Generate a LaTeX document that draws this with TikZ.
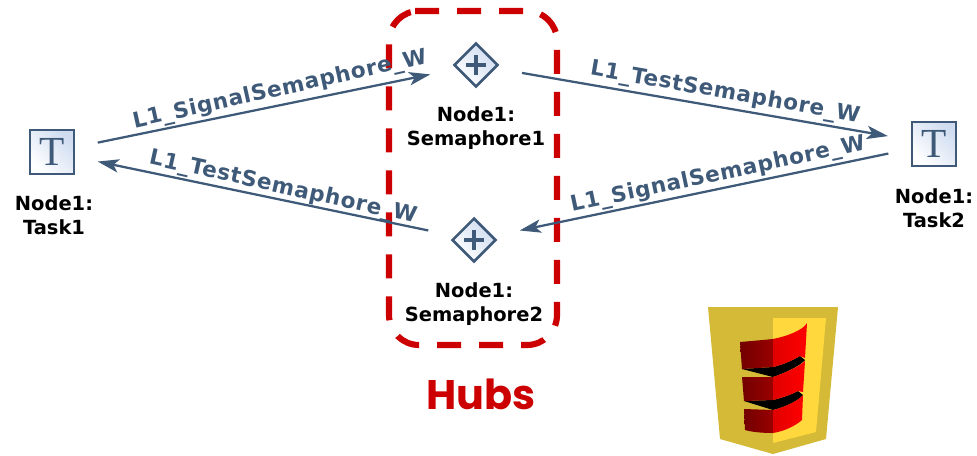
\documentclass[tikz,border=0pt]{standalone}
\usepackage{fontspec}
\usetikzlibrary{arrows.meta,shapes.geometric}
\setmainfont{DejaVu Sans}
\newfontfamily\serifT{Liberation Serif}
\newfontfamily\edgefont[LetterSpace=3]{DejaVu Sans}
\newfontfamily\hubsfont{Poppins}
\definecolor{slate}{HTML}{3F5A78}
\definecolor{hubred}{HTML}{CC0000}
\definecolor{iconfill}{HTML}{CFDCF0}
\tikzset{
  x=0.75pt,y=-0.75pt,
  taskbox/.style={draw=slate,line width=1.9pt,minimum size=33pt,inner sep=0pt,left color=white,right color=iconfill,shading angle=135,
    font=\serifT\fontsize{31}{31}\selectfont,text=slate},
  hub/.style={diamond,draw=slate,line width=1.9pt,aspect=1,minimum size=33pt,inner sep=0pt,left color=white,right color=iconfill,shading angle=135,
    path picture={\draw[slate,line width=3pt] ([xshift=-7.5pt]path picture bounding box.center) -- ([xshift=7.5pt]path picture bounding box.center);
      \draw[slate,line width=3pt] ([yshift=-7.5pt]path picture bounding box.center) -- ([yshift=7.5pt]path picture bounding box.center);}},
  namelabel/.style={font=\bfseries\fontsize{14.6}{18.2}\selectfont,align=center,text=black,inner sep=0pt},
  edgelabel/.style={font=\edgefont\bfseries\fontsize{16.2}{18}\selectfont,text=slate,inner sep=0pt},
  conn/.style={draw=slate,line width=1.7pt,shorten >=35pt,shorten <=35pt,-{Stealth[length=16pt,width=10pt,inset=4pt]}},
  hubframe/.style={draw=hubred,line width=4.6pt,dash pattern=on 18pt off 13.5pt},
  dark/.style={left color=red!45!black,right color=red!60!black},
  bright/.style={left color=red!88!black,right color=red},
  wedge/.style={left color=black,middle color=black!65,right color=black},
}
\begin{document}
\begin{tikzpicture}
\useasboundingbox (0,0) rectangle (977,455);
% nodes
\node[taskbox] (task1) at (52,152) {T};
\node[taskbox] (task2) at (934,144) {T};
\node[hub] (sem1) at (476,65) {};
\node[hub] (sem2) at (474,240) {};
\node[namelabel] (ltask1) at (54,215) {Node1:\\Task1};
\node[namelabel] (ltask2) at (934,208) {Node1:\\Task2};
\node[namelabel] (lsem1) at (476,128) {Node1:\\Semaphore1};
\node[namelabel] (lsem2) at (474,304) {Node1:\\Semaphore2};
% frame
\draw[hubframe,rounded corners=22.5pt] (415,11) -- (557,11) -- (557,345) -- (389,345) -- (389,11) -- (415,11);
% connectors
\draw[conn] (task1.center) -- (sem1.center);
\draw[conn] (sem1.center) -- (task2.center);
\draw[conn] (task2.center) -- (sem2.center);
\draw[conn] (sem2.center) -- (task1.center);
\node[edgelabel,rotate=12.5] (e1) at (280,90) {L1\_SignalSemaphore\_W};
\node[edgelabel,rotate=-12.5] (e2) at (283,188) {L1\_TestSemaphore\_W};
\node[edgelabel,rotate=-10] (e3) at (725,93) {L1\_TestSemaphore\_W};
\node[edgelabel,rotate=12] (e4) at (718,175) {L1\_SignalSemaphore\_W};
\node[font=\hubsfont\bfseries\fontsize{31}{31}\selectfont,text=hubred,inner sep=0pt] (hubs) at (481,394) {Hubs};
% logo
\fill[fill={rgb,255:red,212;green,186;blue,54}] (708,307) -- (838,307) -- (826,439) -- (773,454) -- (720,439) -- cycle;
\fill[fill={rgb,255:red,255;green,216;blue,61}] (773,318) -- (826,318) -- (816,432) -- (773,443) -- cycle;
% black wedges
\shade[wedge] (742,369) -- (773,367) .. controls (785,364) and (793,360) .. (800,356) -- (805,360) .. controls (800,366) and (785,373) .. (773,377) -- cycle;
\shade[wedge] (744,401) -- (773,400) .. controls (785,397) and (792,394) .. (798,391) -- (803,395) .. controls (798,401) and (785,407) .. (773,410) -- cycle;
% red stripes, left halves
\shade[dark] (740,342) .. controls (752,341) and (763,340) .. (773,339) -- (773,367) -- (742,369) -- cycle;
\shade[dark] (742,377) -- (773,377) -- (773,400) -- (744,401) -- cycle;
\shade[dark] (744,409) -- (773,410) -- (773,433) .. controls (762,433) and (752,432) .. (745,430) -- cycle;
% red stripes, right halves
\shade[bright] (773,339) .. controls (788,336) and (803,330) .. (807,323) -- (805,358) -- (800,356) .. controls (793,360) and (785,364) .. (773,367) -- cycle;
\shade[bright] (773,377) .. controls (785,373) and (800,366) .. (805,361) -- (803,392) -- (798,391) .. controls (792,394) and (785,397) .. (773,400) -- cycle;
\shade[bright] (773,410) .. controls (785,407) and (798,401) .. (803,395) -- (802,420) .. controls (795,426) and (785,431) .. (773,433) -- cycle;
\end{tikzpicture}
\end{document}
